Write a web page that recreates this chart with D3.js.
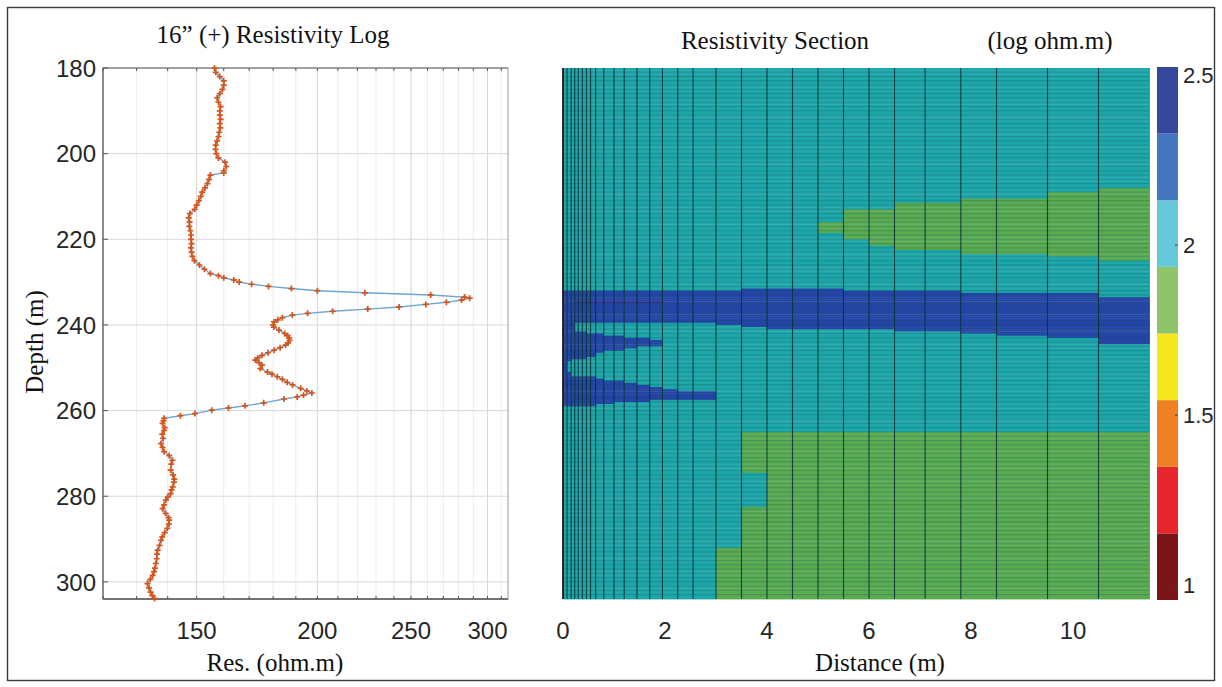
<!DOCTYPE html>
<html>
<head>
<meta charset="utf-8">
<script src="https://cdn.jsdelivr.net/npm/d3@7"></script>
<style>
  body { margin: 0; background: #fff; }
  svg { display: block; }
</style>
</head>
<body>
<div class="container"></div>
<script>
// ---- resistivity log (depth in m, resistivity in ohm.m) ----
var depth = [180,181,182,183,184,185,186,187,188,189,190,191,192,193,194,195,196,197,198,199,
  200,201,202,203,204,204.5,205,206,207,208,209,210,211,212,213,214,215,216,217,218,219,
  220,221,222,223,224,225,226,227,228,228.5,229,229.5,230,230.5,231,231.5,232,232.5,233,
  233.5,233.75,234.2,234.7,235.2,235.8,236.3,236.8,237.3,237.7,238.3,238.8,239.3,240,240.5,
  241.2,242,242.5,243,243.6,244.2,244.7,245.3,245.9,246.5,247.1,247.7,248.2,248.8,249.4,
  250.2,251,251.5,252.1,252.7,253.4,254,254.8,255.4,255.9,256.4,256.8,257.3,258.2,258.9,
  259.4,259.9,260.7,261.2,261.8,262.4,263,264,264.6,265.5,266.5,267.7,268.6,269.6,270.5,
  271.6,272.5,273.9,275,276,276.7,277.8,278.5,279.4,280.2,280.9,282,282.9,284,285,285.6,
  286.5,287.5,288.5,289.5,290.3,291.5,292.6,293.5,294.6,295.7,296.8,297.6,298.5,299.4,
  300.4,301.4,302.4,303.2,303.9];
var res = [156.5,157,158.5,160,160,159.5,158.5,157.5,158,158.8,158.5,158.5,158.8,158.5,158.7,158.3,158,157.5,157,156.9,
  157.2,158,160.5,161,160,160,155,154.5,153.9,153,152,151.5,150.8,150,149.3,147.6,147.2,147.5,147.4,147.8,148,
  148,148.2,148,148.2,148.5,149.2,151,152.8,155,158,160,163.9,166,171,178,188,200,224,262,
  284,287.5,282,272,259,243,225.5,207.4,195.4,188.4,184,182,180.4,180,180.3,
  182.5,185,186.3,187,187.2,186.5,185.4,183,180.4,177.8,175.3,173.5,172.5,174,175.3,
  174.6,177.6,179.5,181.8,184,186.1,188.5,192.2,195,197.4,193.5,190.6,184.7,176,168.3,
  161.8,155.5,149.4,144.3,138.8,138.6,138.3,139,138.8,138.2,138.5,137.8,138.3,138.8,140.5,
  141.6,141.2,141,141.8,142.2,142.1,141.7,141.3,141,140,139.4,138.8,138.3,139.3,140.3,140.5,
  140.4,139.9,139,138.2,137.8,137.3,136.7,136.5,136.4,136.1,135.8,135.5,135.1,134.3,
  133.4,133.9,134.4,135,135.7];

var depthTicks = [180, 200, 220, 240, 260, 280, 300];
var resTicks = [150, 200, 250, 300];
var resMinor = d3.range(120, 320, 10);

// ---- resistivity section (log ohm.m) ----
var colEdges = [0,0.08,0.16,0.23,0.3,0.38,0.46,0.54,0.64,0.8,1.0,1.2,1.45,1.7,1.95,2.25,2.55,3.0,
  3.5,4.0,4.5,5.0,5.5,6.0,6.5,7.1,7.8,8.5,9.5,10.5,11.5];
var distTicks = [0, 2, 4, 6, 8, 10];

var backgroundValue = 2.05;
var greenValue = 1.85;
var blueValue = 2.45;
var streakValue = 2.6;

// [column, top depth, bottom depth]
var blueBand = [[0,231.9,259.1],[1,231.9,248.6],[2,231.9,247.8],[3,231.9,239.5],[4,231.9,239.5],
  [5,231.9,239.5],[6,231.9,239.5],[7,231.9,239.5],[8,231.9,239.5],[9,231.9,239.5],[10,231.9,239.5],
  [11,231.9,239.5],[12,231.9,239.5],[13,231.9,239.5],[14,231.9,239.5],[15,231.9,239.5],
  [16,231.9,239.6],[17,231.9,240.2],[18,231.3,240.4],[19,231.3,241.0],[20,231.3,241.0],
  [21,231.3,241.0],[22,232.1,241.0],[23,232.1,241.2],[24,232.1,241.6],[25,232.1,241.6],
  [26,232.3,242.0],[27,232.3,242.4],[28,232.3,242.8],[29,233.4,244.3]];
var wedge1 = [[3,241.6,247.8],[4,241.6,247.8],[5,241.6,247.8],[6,241.9,247.3],[7,241.9,247.3],
  [8,242.2,246.6],[9,242.4,246.2],[10,242.7,245.9],[11,243.0,245.5],[12,243.2,245.1],
  [13,243.5,244.8]];
var wedge2 = [[1,251.0,259.1],[2,252.1,259.1],[3,252.1,259.1],[4,252.1,259.1],[5,252.1,259.1],
  [6,252.1,259.1],[7,252.1,259.1],[8,252.6,258.6],[9,252.9,258.3],[10,253.2,258.1],
  [11,253.6,257.9],[12,254.0,257.8],[13,254.4,257.7],[14,254.9,257.6],[15,255.3,257.5],
  [16,255.7,257.3]];
var streak = [[3,234.4,235.1],[4,234.4,235.1],[5,234.4,235.1],[6,234.4,235.1],[7,234.4,235.1],
  [8,234.4,235.1],[9,234.4,235.1],[10,234.4,235.1],[11,234.4,235.1],[12,234.4,235.1],
  [13,234.4,235.1]];
var upperLens = [[21,216.2,218.6],[22,213.2,220.2],[23,213.2,221.7],[24,211.6,222.5],
  [25,211.6,222.5],[26,210.4,223.3],[27,210.4,223.3],[28,208.9,224.1],[29,208.1,224.9]];
var lowerGreen = [[17,291.8,304],[18,265.0,274.6],[18,282.5,304],[19,265,304],[20,265,304],
  [21,265,304],[22,265,304],[23,265,304],[24,265,304],[25,265,304],[26,265,304],[27,265,304],
  [28,265,304],[29,265,304]];

var colorbarTicks = [1, 1.5, 2, 2.5];
var climLow = 0.956, climHigh = 2.524;
var barColors = ['#7a1518', '#e8252a', '#f08024', '#f4e81c', '#8ec46a', '#66c8da', '#4477c0', '#36479c'];
var cellColors = ['#6e1416', '#d42026', '#e07020', '#e8d818', '#5aab52', '#1ea7aa', '#2f6ab5', '#2546a8', '#2d3093'];

buildChart();

function buildChart() {
  var W = 1222, H = 687;
  var svg = d3.select('.container').append('svg')
    .attr('width', W).attr('height', H)
    .style('font-family', '"Liberation Sans", Arial, sans-serif');

  var serif = '"Liberation Serif", "Times New Roman", serif';

  // frame
  svg.append('rect')
    .attr('x', 7.5).attr('y', 7.5).attr('width', 1207).attr('height', 673)
    .attr('fill', 'none').attr('stroke', '#3a3a3a').attr('stroke-width', 1.4);

  /* ---------- left panel: log ---------- */
  var lx = d3.scaleLog().domain([120, 315]).range([103, 508]);
  var ly = d3.scaleLinear().domain([180, 304]).range([68, 599]);

  var gl = svg.append('g');

  gl.selectAll('.minor').data(resMinor).enter().append('line')
    .attr('x1', function(d) { return lx(d); }).attr('x2', function(d) { return lx(d); })
    .attr('y1', 68).attr('y2', 599)
    .attr('stroke', '#ececec').attr('stroke-width', 1);

  gl.selectAll('.vmaj').data(resTicks).enter().append('line')
    .attr('x1', function(d) { return lx(d); }).attr('x2', function(d) { return lx(d); })
    .attr('y1', 68).attr('y2', 599)
    .attr('stroke', '#d9d9d9').attr('stroke-width', 1);

  gl.selectAll('.hmaj').data(depthTicks.slice(1)).enter().append('line')
    .attr('x1', 103).attr('x2', 508)
    .attr('y1', function(d) { return ly(d); }).attr('y2', function(d) { return ly(d); })
    .attr('stroke', '#d9d9d9').attr('stroke-width', 1);

  // box
  gl.append('rect').attr('x', 103).attr('y', 68).attr('width', 405).attr('height', 531)
    .attr('fill', 'none').attr('stroke', '#9a9a9a').attr('stroke-width', 1);
  gl.append('line').attr('x1', 103).attr('x2', 508).attr('y1', 599).attr('y2', 599)
    .attr('stroke', '#555').attr('stroke-width', 1.3);
  gl.append('line').attr('x1', 103).attr('x2', 103).attr('y1', 68).attr('y2', 599)
    .attr('stroke', '#666').attr('stroke-width', 1.2);
  gl.append('line').attr('x1', 103).attr('x2', 508).attr('y1', 68).attr('y2', 68)
    .attr('stroke', '#777').attr('stroke-width', 1.2);

  // inner tick marks (top and bottom)
  [68, 599].forEach(function(yy, k) {
    gl.selectAll('.tk' + k).data(resMinor).enter().append('line')
      .attr('x1', function(d) { return lx(d); }).attr('x2', function(d) { return lx(d); })
      .attr('y1', yy).attr('y2', k ? yy - 3 : yy + 3)
      .attr('stroke', '#555').attr('stroke-width', 1);
  });
  gl.selectAll('.ytk').data(depthTicks).enter().append('line')
    .attr('x1', 103).attr('x2', 108)
    .attr('y1', function(d) { return ly(d); }).attr('y2', function(d) { return ly(d); })
    .attr('stroke', '#555');

  // tick labels
  gl.selectAll('.ylab').data(depthTicks).enter().append('text')
    .attr('x', 96).attr('y', function(d) { return ly(d); })
    .attr('dy', '0.36em').attr('text-anchor', 'end')
    .attr('font-size', '24px').attr('fill', '#262626')
    .text(function(d) { return d; });
  gl.selectAll('.xlab').data(resTicks).enter().append('text')
    .attr('x', function(d) { return lx(d); }).attr('y', 630)
    .attr('dy', '0.36em').attr('text-anchor', 'middle')
    .attr('font-size', '24px').attr('fill', '#262626')
    .text(function(d) { return d; });

  var logData = depth.map(function(d, i) { return { depth: d, res: res[i] }; });

  gl.append('path').datum(logData)
    .attr('d', d3.line()
      .x(function(d) { return lx(d.res); })
      .y(function(d) { return ly(d.depth); }))
    .attr('fill', 'none').attr('stroke', '#6aa6d6').attr('stroke-width', 1.4);

  gl.selectAll('.mk').data(logData).enter().append('path')
    .attr('transform', function(d) { return 'translate(' + lx(d.res) + ',' + ly(d.depth) + ')'; })
    .attr('d', 'M-3,0H3M0,-3V3')
    .attr('stroke', '#d4541c').attr('stroke-width', 1.7).attr('fill', 'none');

  // titles
  svg.append('text').attr('x', 273).attr('y', 43).attr('text-anchor', 'middle')
    .attr('font-family', serif).attr('font-size', '25px').attr('fill', '#111')
    .text('16\u201D (+) Resistivity Log');
  svg.append('text').attr('x', 275).attr('y', 671).attr('text-anchor', 'middle')
    .attr('font-family', serif).attr('font-size', '25px').attr('fill', '#111')
    .text('Res. (ohm.m)');
  svg.append('text')
    .attr('transform', 'translate(43,342) rotate(-90)')
    .attr('text-anchor', 'middle')
    .attr('font-family', serif).attr('font-size', '25px').attr('fill', '#111')
    .text('Depth (m)');

  /* ---------- right panel: section ---------- */
  var sx = d3.scaleLinear().domain([0, 11.5]).range([563, 1149.5]);
  var sy = d3.scaleLinear().domain([180, 304]).range([68, 599]);

  var thresholds = d3.range(1, 8).map(function(k) { return climLow + k * (climHigh - climLow) / 8; });
  var cellColor = d3.scaleThreshold().domain(thresholds.concat([climHigh])).range(cellColors);
  var barColor = d3.scaleThreshold().domain(thresholds).range(barColors);

  var rowStep = 0.5;
  var rowTops = d3.range(180, 304, rowStep);
  var cells = [];
  for (var c = 0; c < colEdges.length - 1; c++) {
    rowTops.forEach(function(top) {
      var mid = top + rowStep / 2;
      var v = backgroundValue;
      function apply(list, value) {
        list.forEach(function(s) {
          if (s[0] === c && mid > s[1] && mid < s[2]) v = value;
        });
      }
      apply(blueBand, blueValue);
      apply(wedge1, blueValue);
      apply(wedge2, blueValue);
      apply(streak, streakValue);
      apply(upperLens, greenValue);
      apply(lowerGreen, greenValue);
      cells.push({ c: c, top: top, v: v });
    });
  }

  var gs = svg.append('g');
  gs.selectAll('rect.cell').data(cells).enter().append('rect')
    .attr('class', 'cell')
    .attr('x', function(d) { return sx(colEdges[d.c]); })
    .attr('width', function(d) { return sx(colEdges[d.c + 1]) - sx(colEdges[d.c]) + 0.4; })
    .attr('y', function(d) { return sy(d.top); })
    .attr('height', function(d) { return sy(d.top + rowStep) - sy(d.top) + 0.4; })
    .attr('fill', function(d) { return cellColor(d.v); });

  // horizontal cell edges
  gs.selectAll('line.h').data(d3.range(181, 304, 1)).enter().append('line')
    .attr('x1', sx(0)).attr('x2', sx(11.5))
    .attr('y1', function(d) { return sy(d); }).attr('y2', function(d) { return sy(d); })
    .attr('stroke', '#0c4a50').attr('stroke-opacity', 0.28).attr('stroke-width', 1);

  // vertical cell edges
  gs.selectAll('line.v').data(colEdges.slice(1, -1)).enter().append('line')
    .attr('x1', function(d) { return sx(d); }).attr('x2', function(d) { return sx(d); })
    .attr('y1', 68).attr('y2', 599)
    .attr('stroke', '#0a3033').attr('stroke-opacity', 0.85).attr('stroke-width', 1.1);

  gs.append('line').attr('x1', sx(0)).attr('x2', sx(0)).attr('y1', 68).attr('y2', 599)
    .attr('stroke', '#2a1616').attr('stroke-width', 1.8);

  gs.selectAll('.dlab').data(distTicks).enter().append('text')
    .attr('x', function(d) { return sx(d); }).attr('y', 630)
    .attr('dy', '0.36em').attr('text-anchor', 'middle')
    .attr('font-size', '24px').attr('fill', '#262626')
    .text(function(d) { return d; });

  svg.append('text').attr('x', 775).attr('y', 49).attr('text-anchor', 'middle')
    .attr('font-family', serif).attr('font-size', '25px').attr('fill', '#111')
    .text('Resistivity Section');
  svg.append('text').attr('x', 1050).attr('y', 49).attr('text-anchor', 'middle')
    .attr('font-family', serif).attr('font-size', '25px').attr('fill', '#111')
    .text('(log ohm.m)');
  svg.append('text').attr('x', 880).attr('y', 671).attr('text-anchor', 'middle')
    .attr('font-family', serif).attr('font-size', '25px').attr('fill', '#111')
    .text('Distance (m)');

  /* ---------- colorbar ---------- */
  var cy = d3.scaleLinear().domain([climLow, climHigh]).range([600, 67]);
  var bands = [climLow].concat(thresholds);
  var gc = svg.append('g');
  gc.selectAll('rect').data(bands).enter().append('rect')
    .attr('x', 1157).attr('width', 21)
    .attr('y', function(d, i) { return cy(i < 7 ? thresholds[i] : climHigh); })
    .attr('height', function(d, i) { return cy(d) - cy(i < 7 ? thresholds[i] : climHigh); })
    .attr('fill', function(d) { return barColor(d + 0.01); });
  gc.selectAll('line').data(colorbarTicks).enter().append('line')
    .attr('x1', 1175).attr('x2', 1178)
    .attr('y1', function(d) { return cy(d); }).attr('y2', function(d) { return cy(d); })
    .attr('stroke', '#444');
  gc.selectAll('text').data(colorbarTicks).enter().append('text')
    .attr('x', 1183).attr('y', function(d) { return cy(d); })
    .attr('dy', '0.36em').attr('font-size', '22px').attr('fill', '#262626')
    .text(function(d) { return d; });
}
</script>
</body>
</html>
